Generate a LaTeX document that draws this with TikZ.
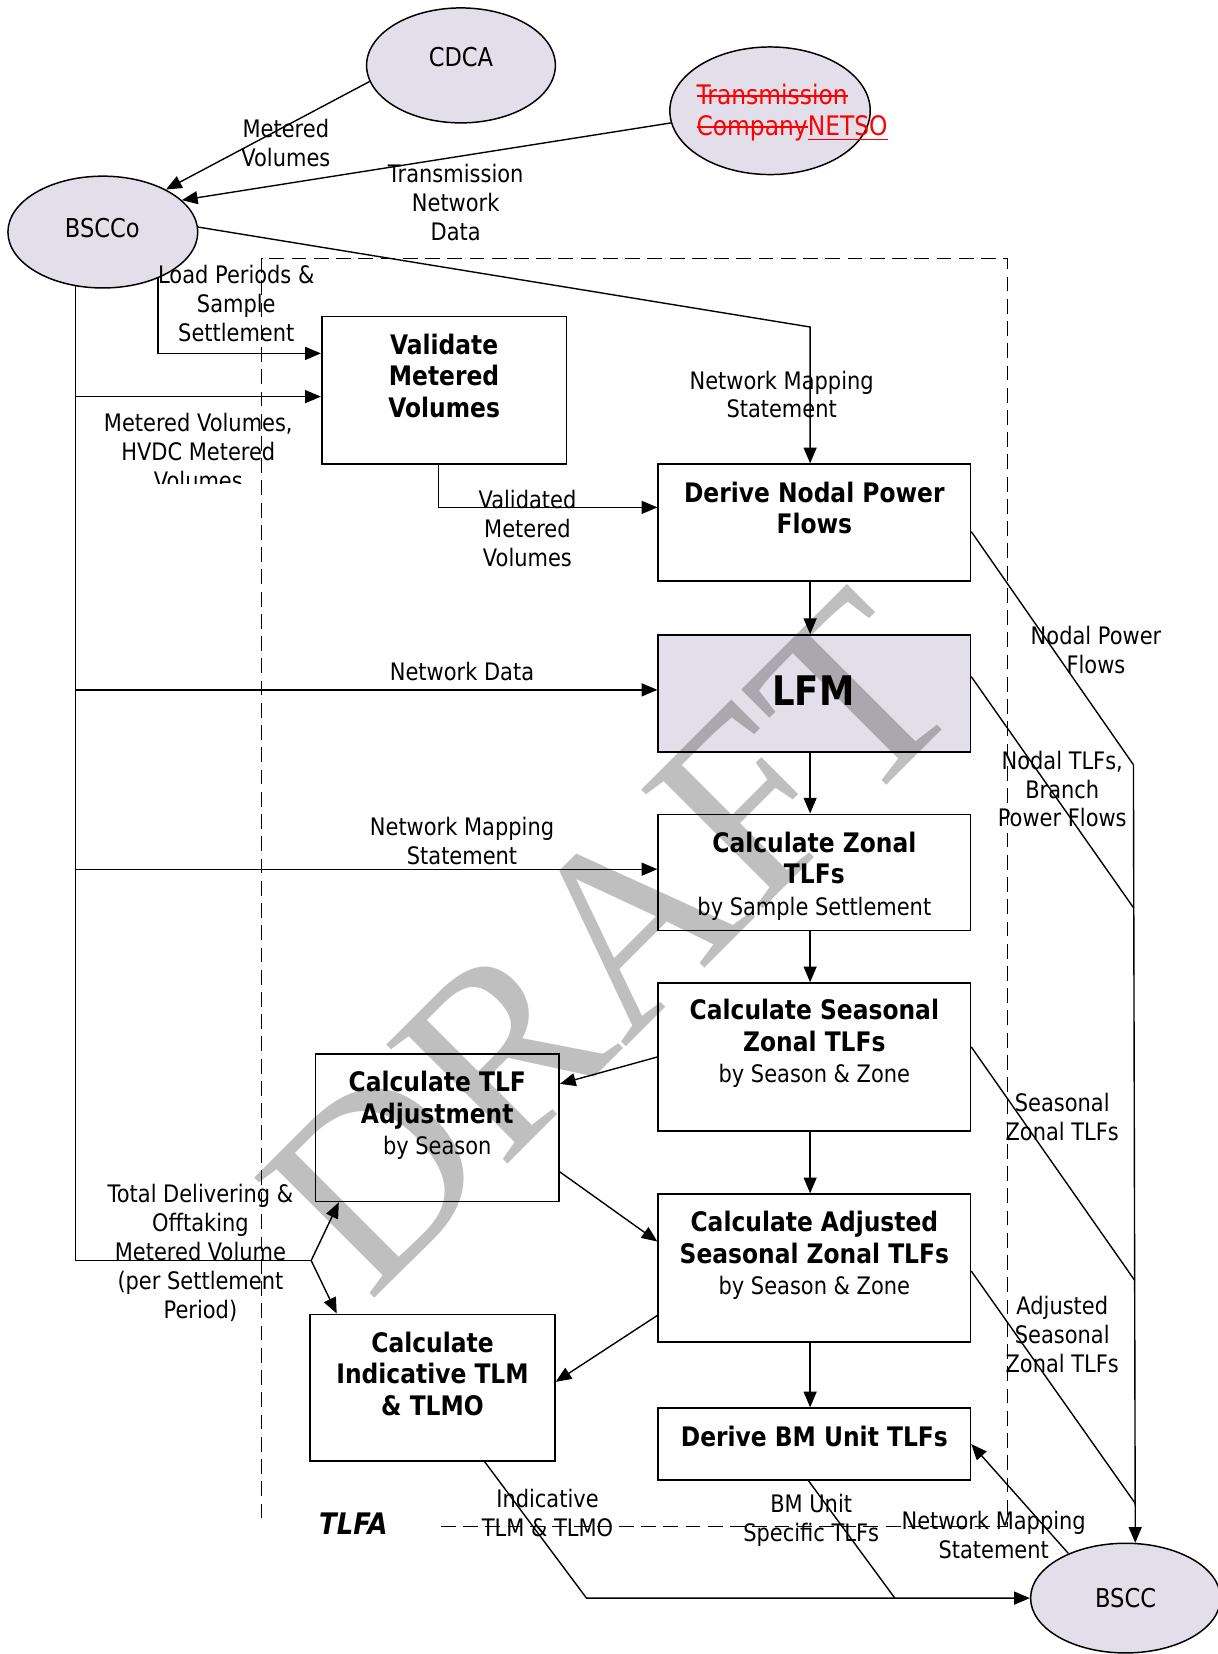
\documentclass[tikz,border=0pt]{standalone}
\usepackage{fontspec}
\setmainfont{DejaVu Sans}[FakeStretch=0.87]
\newfontfamily\draftfont{Liberation Serif}
\usetikzlibrary{positioning,fit,shapes.geometric,arrows.meta}
\definecolor{entfill}{HTML}{E3DFEA}

\newcommand{\lblsize}{\fontsize{13}{15.6}\selectfont}
\newcommand{\boxsize}{\fontsize{13}{17}\selectfont}
\newcommand{\entsize}{\fontsize{14}{16.5}\selectfont}
\newcommand{\boldline}[1]{{\fontsize{14.5}{17}\selectfont\bfseries #1}}
\newcommand{\struck}[1]{\setbox0\hbox{#1}\rlap{\rule[0.3em]{\wd0}{0.7pt}}\box0}
\newcommand{\underlined}[1]{\setbox0\hbox{#1}\rlap{\rule[-0.16em]{\wd0}{0.7pt}}\box0}

\tikzset{
	ent/.style={ellipse, draw, fill=entfill, line width=0.8pt, inner sep=0pt, font=\entsize},
	procbox/.style={draw, line width=0.9pt, inner sep=0pt},
	proctext/.style={align=center, inner sep=0pt, font=\boxsize},
	lbl/.style={align=center, inner sep=0pt, font=\lblsize},
	link/.style={line width=0.75pt},
	flow/.style={link, -{Triangle[length=8.5pt,width=7pt]}},
	tlfa/.style={dashed, dash pattern=on 8pt off 4pt, line width=0.85pt},
}

\begin{document}
\begin{tikzpicture}[x=0.02cm, y=-0.02cm]
	\useasboundingbox (0,0) rectangle (1154,1568);

	\node[ent, minimum width=3.58cm, minimum height=2.18cm] (cdca) at (437,62) {};
	\node[font=\entsize, inner sep=0pt] (cdcatxt) at (437,54) {CDCA};
	\node[ent, minimum width=3.8cm, minimum height=2.42cm] (netso) at (730,105) {};
	\node[anchor=west, align=left, inner sep=0pt, text=red, font=\fontsize{14.5}{16.8}\selectfont] (netsotxt) at (660,107)
		{\struck{Transmission}\\\struck{Company}\underlined{NETSO}};
	\node[ent, minimum width=3.6cm, minimum height=2.12cm] (bscco) at (97.5,220) {};
	\node[font=\entsize, inner sep=0pt] (bsccotxt) at (97,216) {BSCCo};
	\node[ent, minimum width=3.6cm, minimum height=2.08cm] (bscc) at (1067,1515) {BSCC};

	\node[procbox, fit={(305,300) (537,440)}] (vmv) {};
	\node[proctext, below=0.34cm of vmv.north] (vmvtxt)
		{\boldline{Validate}\\\boldline{Metered}\\\boldline{Volumes}};
	\node[procbox, fit={(624,440) (920,551)}] (dnpf) {};
	\node[proctext, below=0.34cm of dnpf.north] (dnpftxt)
		{\boldline{Derive Nodal Power}\\\boldline{Flows}};
	\node[procbox, fill=entfill, fit={(624,602) (920,713)}] (lfm) {};
	\node[font=\fontsize{22}{26}\selectfont\bfseries, inner sep=0pt] (lfmtxt) at (771,655) {LFM};
	\node[procbox, fit={(624,772) (920,882)}] (zonal) {};
	\node[proctext, below=0.34cm of zonal.north] (zonaltxt)
		{\boldline{Calculate Zonal}\\\boldline{TLFs}\\by Sample Settlement};
	\node[procbox, fit={(624,932) (920,1072)}] (seasonal) {};
	\node[proctext, below=0.32cm of seasonal.north] (seasonaltxt)
		{\boldline{Calculate Seasonal}\\\boldline{Zonal TLFs}\\by Season \& Zone};
	\node[procbox, fit={(299,999) (530,1139)}] (tlfadj) {};
	\node[proctext, below=0.34cm of tlfadj.north] (tlfadjtxt)
		{\boldline{Calculate TLF}\\\boldline{Adjustment}\\by Season};
	\node[procbox, fit={(624,1132) (920,1272)}] (adjusted) {};
	\node[proctext, below=0.34cm of adjusted.north] (adjustedtxt)
		{\boldline{Calculate Adjusted}\\\boldline{Seasonal Zonal TLFs}\\by Season \& Zone};
	\node[procbox, fit={(294,1246) (526,1385)}] (tlm) {};
	\node[proctext, below=0.34cm of tlm.north] (tlmtxt)
		{\boldline{Calculate}\\\boldline{Indicative TLM}\\\boldline{\& TLMO}};
	\node[procbox, fit={(624,1335) (920,1403)}] (bmu) {};
	\node[proctext, below=0.34cm of bmu.north] (bmutxt) {\boldline{Derive BM Unit TLFs}};

	\node[font=\fontsize{16}{18}\selectfont\bfseries\itshape, inner sep=0pt] (tlfalbl) at (335,1444) {TLFA};
	\draw[tlfa] (418,1447) -- (955,1447) -- (955,245) -- (248,245) -- (248,1442);

	\coordinate (colx) at (768,0);
	\coordinate (nmbend) at (768,310);
	\coordinate (jbot) at (bscco.-117 |- 0,1195);
	\coordinate (jmv) at (jbot |- 0,376);
	\coordinate (jnd) at (jbot |- 0,654);
	\coordinate (jnm) at (jbot |- 0,824);
	\coordinate (jsplit) at (295,1195);
	\coordinate (rtop) at (1074.5,725);
	\coordinate (rj1) at (1074.9,861);
	\coordinate (rj2) at (1075.8,1214);
	\coordinate (rj3) at (1076.4,1425.5);
	\coordinate (bend) at (556,1515);
	\coordinate (bmjoin) at (848.3,1515);

	\draw[flow] (cdca.190) -- (bscco.34);
	\draw[flow] (netso.187) -- (bscco.22);
	\draw[flow] (bscco.3) -- (nmbend) -- (nmbend |- dnpf.north);
	\draw[flow] (bscco.-40) |- ([yshift=0.7cm]vmv.west);
	\draw[link] (bscco.-117) -- (jbot) -- (jsplit);
	\draw[flow] (jmv) -- (jmv -| vmv.west);
	\draw[flow] (jnd) -- (jnd -| lfm.west);
	\draw[flow] (jnm) -- (jnm -| zonal.west);
	\draw[flow] (jsplit) -- ([xshift=0.46cm]tlfadj.south west);
	\draw[flow] (jsplit) -- ([xshift=0.52cm]tlm.north west);
	\draw[flow] ([xshift=-0.11cm]vmv.south) |- ([yshift=0.29cm]dnpf.west);

	\draw[flow] (dnpf.south -| colx) -- (lfm.north -| colx);
	\draw[flow] (lfm.south -| colx) -- (zonal.north -| colx);
	\draw[flow] (zonal.south -| colx) -- (seasonal.north -| colx);
	\draw[flow] (seasonal.south -| colx) -- (adjusted.north -| colx);
	\draw[flow] (adjusted.south -| colx) -- (bmu.north -| colx);

	\draw[flow] (seasonal.west) -- ([yshift=0.83cm]tlfadj.east);
	\draw[flow] ([yshift=-0.84cm]tlfadj.east) -- ([yshift=0.5cm]adjusted.west);
	\draw[flow] ([yshift=-0.9cm]adjusted.west) -- ([yshift=0.11cm]tlm.east);

	\draw[link] ([yshift=-0.17cm]dnpf.east) -- (rtop);
	\draw[flow] (rtop) -- (bscc.80);
	\draw[link] ([yshift=0.32cm]lfm.east) -- (rj1);
	\draw[link] ([yshift=0.19cm]seasonal.east) -- (rj2);
	\draw[link] ([yshift=-0.06cm]adjusted.east) -- (rj3);

	\draw[flow] ([xshift=0.99cm]tlm.south) -- (bend) -- (bscc.west);
	\draw[link] ([xshift=-0.11cm]bmu.south) -- (bmjoin);
	\draw[flow] (bscc.142) -- (bmu.east);

	\node[lbl] (mvl) at (271,136) {Metered\\Volumes};
	\node[lbl] (tndl) at (432,192) {Transmission\\Network\\Data};
	\node[lbl] (lpl) at (224,288) {Load Periods \&\\Sample\\Settlement};
	\node[lbl] (nml) at (741,374) {Network Mapping\\Statement};
	\begin{scope}
		\clip (90,380) rectangle (300,458);
		\node[lbl] (hvdcl) at (188,428) {Metered Volumes,\\HVDC Metered\\Volumes};
	\end{scope}
	\node[lbl] (vml) at (500,501) {Validated\\Metered\\Volumes};
	\node[lbl] (ndl) at (438,637) {Network Data};
	\node[lbl] (nm2l) at (438,797) {Network Mapping\\Statement};
	\node[lbl] (tdl) at (190,1188) {Total Delivering \&\\Offtaking\\Metered Volume\\(per Settlement\\Period)};
	\node[lbl] (npl) at (1039,616) {Nodal Power\\Flows};
	\node[lbl] (ntl) at (1007,748) {Nodal TLFs,\\Branch\\Power Flows};
	\node[lbl] (szl) at (1007,1059) {Seasonal\\Zonal TLFs};
	\node[lbl] (aszl) at (1007,1265) {Adjusted\\Seasonal\\Zonal TLFs};
	\node[lbl] (itl) at (519,1434) {Indicative\\TLM \& TLMO};
	\node[lbl] (bmul) at (769,1441) {BM Unit\\Specific TLFs};
	\node[lbl] (nm3l) at (942,1455) {Network Mapping\\Statement};

	\node[font=\draftfont\fontsize{140}{142}\selectfont, text=black, opacity=0.25, rotate=45, inner sep=0pt] (draft) at (578,893) {DRAFT};
\end{tikzpicture}
\end{document}
